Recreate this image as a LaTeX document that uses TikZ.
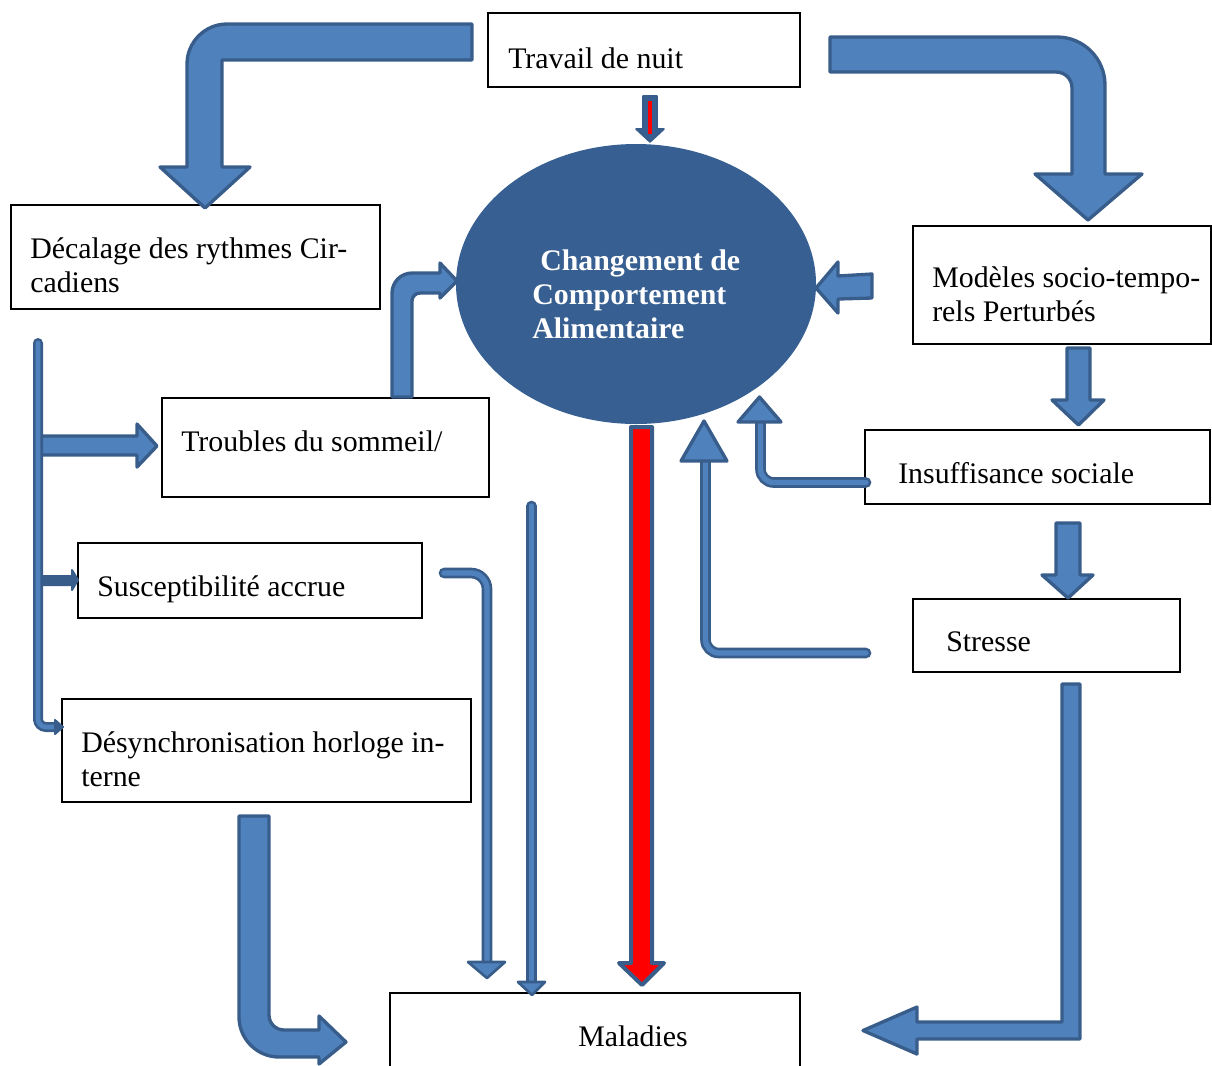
\documentclass[tikz,border=0pt]{standalone}
\usepackage{fontspec}
\setmainfont{Liberation Serif}
\usetikzlibrary{shapes.geometric,fit}
\definecolor{arrfill}{HTML}{4F81BD}
\definecolor{arrline}{HTML}{385D8A}
\definecolor{ellfill}{HTML}{375F91}
\newcommand{\rows}[1]{\begin{tabular}[t]{@{}l@{}}#1\end{tabular}}
\begin{document}
\begin{tikzpicture}[x=0.75pt,y=-0.75pt,
  box/.style={draw=black, line width=0.85pt, inner sep=0pt},
  txt/.style={anchor=base west, inner sep=0pt, font=\fontsize{22.4}{25.5}\selectfont},
  ctxt/.style={txt, text=white, font=\fontsize{22.4}{25.5}\selectfont\bfseries},
  blk/.style={fill=arrfill, draw=arrline, line width=2.5pt, line join=round},
  dblk/.style={fill=arrline, draw=arrline, line width=1.5pt, line join=round},
  dbl/.style={draw=arrline, double=arrfill, line width=2pt, double distance=4pt, line cap=round},
  dblthin/.style={draw=arrline, double=arrfill, line width=2pt, double distance=3.5pt, line cap=round}]
\useasboundingbox (0,0) rectangle (1212,1065);

% boxes
\node[box, fit={(488,13) (800,87)}] (travail) {};
\node[box, fit={(11,205) (380,309)}] (decalage) {};
\node[box, fit={(913,226) (1211,344)}] (modeles) {};
\node[box, fit={(162,398) (489,497)}] (troubles) {};
\node[box, fit={(865,430) (1210,504)}] (insuff) {};
\node[box, fit={(78,543) (422,618)}] (suscept) {};
\node[box, fit={(913,599) (1180,672)}] (stresse) {};
\node[box, fit={(62,699) (471,802)}] (desync) {};
\node[box, fit={(390,993) (800,1072)}] (maladies) {};

% texts
\node[txt] (travail-t) at (508,68.5) {Travail de nuit};
\node[txt] (decalage-t) at (30,258.5) {\rows{Décalage des rythmes Cir-\\cadiens}};
\node[txt] (modeles-t) at (932,287.5) {\rows{Modèles socio-tempo-\\rels Perturbés}};
\node[txt] (troubles-t) at (181,451.5) {Troubles du sommeil/};
\node[txt] (insuff-t) at (898,483.5) {Insuffisance sociale};
\node[txt] (suscept-t) at (97,596.5) {Susceptibilité accrue};
\node[txt] (stresse-t) at (946,651.5) {Stresse};
\node[txt] (desync-t) at (81,752.5) {\rows{Désynchronisation horloge in-\\terne}};
\node[txt] (maladies-t) at (578,1046.5) {Maladies};

% ellipse
\node[ellipse, fill=ellfill, minimum width=270pt, minimum height=210pt, inner sep=0pt] (ccm) at (636,284) {};
\node[ctxt] (ccm-t) at (532,270) {\rows{\hspace*{6pt}Changement de\\Comportement\\Alimentaire}};

% top-left bent arrow
\draw[blk] (472,24) -- (472,60) -- (222,60) -- (222,167) -- (250,167) -- (205,208) -- (160,167) -- (187,167) -- (187,64) .. controls (187,42) and (205,24) .. (227,24) -- cycle;
% top-right bent arrow
\draw[blk] (830,37) -- (1057,37) .. controls (1083.5,37) and (1105,58.5) .. (1105,85) -- (1105,174) -- (1142,174) -- (1088,220) -- (1035,174) -- (1072,174) -- (1072,88) .. controls (1072,79) and (1065,72) .. (1056,72) -- (830,72) -- cycle;
% small arrow into ellipse
\draw[fill=ellfill, draw=arrline, line width=1.2pt, line join=round] (643,96) -- (657,96) -- (657,129) -- (664,129) -- (650,142) -- (636,129) -- (643,129) -- cycle;
\draw[red, line width=2.5pt] (650,101) -- (650,134);
% Modeles -> ellipse
\draw[blk] (872,274) -- (872,298) -- (838,299) -- (838,313) -- (816,288) -- (838,262) -- (838,276) -- cycle;
% Troubles -> ellipse
\draw[blk] (392,397) -- (412,397) -- (412,301) .. controls (412,296.6) and (415.6,293) .. (420,293) -- (440,293) -- (440,298) -- (457,281) -- (440,263) -- (440,273) -- (412,273) .. controls (401,273) and (392,282) .. (392,293) -- cycle;

% left branch arrows
\draw[blk] (40,436) -- (137,436) -- (137,424) -- (157,446) -- (137,467) -- (137,455) -- (40,455) -- cycle;
\draw[dblk] (40,576) -- (72,576) -- (72,570) -- (78,580) -- (72,590) -- (72,585) -- (40,585) -- cycle;
\draw[dblthin, rounded corners=6pt] (38,343) -- (38,727) -- (55,727);
\draw[dblk] (55,720) -- (63,727) -- (55,734) -- cycle;

% Insuffisance -> ellipse
\draw[dbl, rounded corners=10pt] (866,482.5) -- (760.5,482.5) -- (760.5,423);
\draw[blk] (738,422) -- (759.5,397) -- (781,422) -- cycle;
% Stresse -> ellipse
\draw[dbl, rounded corners=10pt] (866,653) -- (705.5,653) -- (705.5,462);
\draw[blk] (681,461) -- (704,421) -- (727,461) -- cycle;

% red arrow ellipse -> Maladies
\draw[fill=red, draw=arrline, line width=3pt, line join=round] (631,427) -- (652,427) -- (652,963) -- (664,963) -- (642,985) -- (619,963) -- (631,963) -- cycle;
% thin arrow -> Maladies
\draw[dbl] (531.5,506) -- (531.5,982);
\draw[blk, line width=2pt] (518,982) -- (545,982) -- (532,995) -- cycle;
% Susceptibilite -> Maladies
\draw[dbl, rounded corners=12pt] (444,573) -- (487,573) -- (487,962);
\draw[blk, line width=2pt] (468,962) -- (505,962) -- (487,978) -- cycle;
% Desynchronisation -> Maladies
\draw[blk] (239,816) -- (269,816) -- (269,1015) .. controls (269,1023.3) and (275.7,1030) .. (284,1030) -- (319,1030) -- (319,1016) -- (346,1042) -- (319,1064) -- (319,1057) -- (279,1057) .. controls (257,1057) and (239,1039) .. (239,1017) -- cycle;
% Stresse -> Maladies
\draw[blk] (1062,684) -- (1080,684) -- (1080,1039) -- (917,1039) -- (917,1054) -- (863,1030.5) -- (917,1007) -- (917,1022) -- (1062,1022) -- cycle;
% Modeles -> Insuffisance
\draw[blk] (1067,348) -- (1090,348) -- (1090,400) -- (1104,400) -- (1078.5,425) -- (1052,400) -- (1067,400) -- cycle;
% Insuffisance -> Stresse
\draw[blk] (1056,523) -- (1080,523) -- (1080,575) -- (1093,575) -- (1068,598) -- (1042,575) -- (1056,575) -- cycle;
\end{tikzpicture}
\end{document}
